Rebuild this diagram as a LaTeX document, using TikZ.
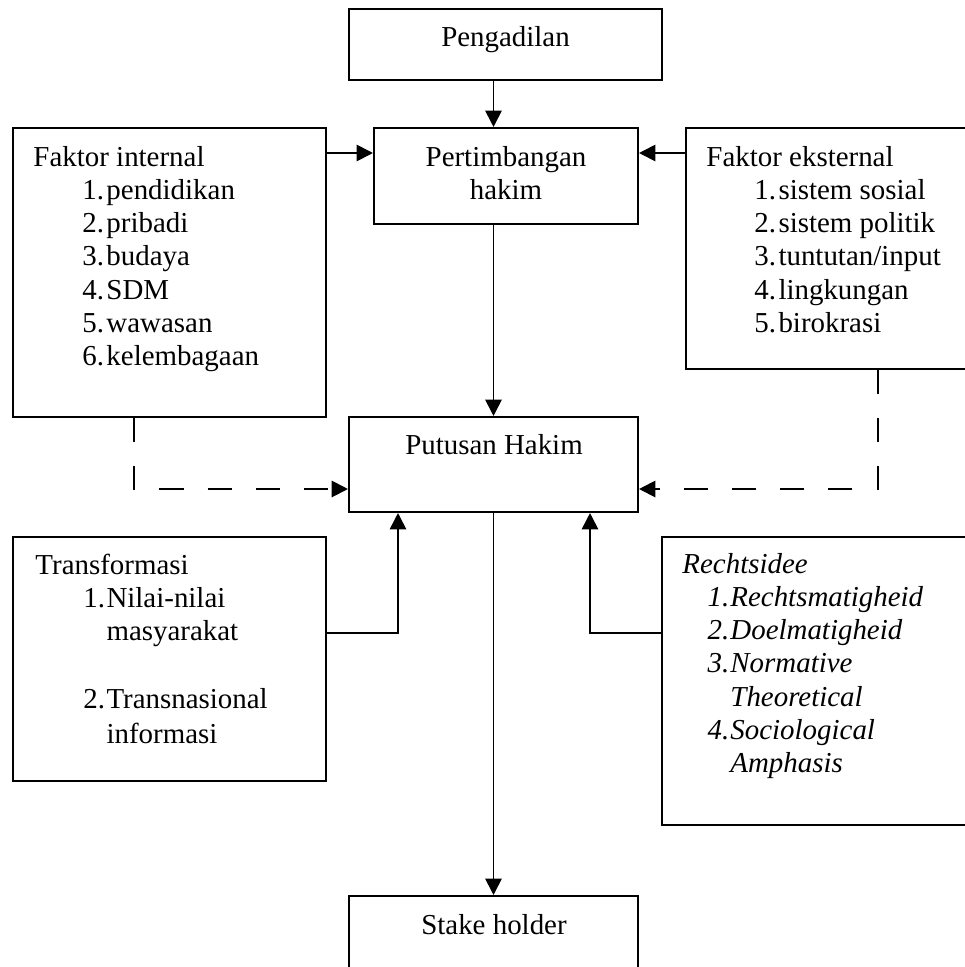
\documentclass[tikz,border=0pt]{standalone}
\usepackage{fontspec}
\setmainfont{Liberation Serif}
\usetikzlibrary{arrows.meta,fit}
\newcommand\numit[4]{\hspace*{#1}\makebox[#2][l]{#3}#4}
\begin{document}
\begin{tikzpicture}[x=0.415pt,y=-0.415pt,
  box/.style={draw,line width=0.85pt,inner sep=0pt},
  txt/.style={anchor=base west,inner sep=0pt,font=\fontsize{12}{13.8}\selectfont},
  ctxt/.style={anchor=base,inner sep=0pt,font=\fontsize{12}{13.8}\selectfont},
  arr/.style={line width=0.75pt,-{Triangle[length=6.8pt,width=6.8pt]}},
  darr/.style={arr,line width=0.85pt,dash pattern=on 10pt off 10pt}]
\useasboundingbox (0,0) rectangle (965,967);
\clip (0,0) rectangle (965,967);

% boxes
\node[box,fit={(349,9)(662,80)}] (peng) {};
\node[box,fit={(374,128)(638,224)}] (pert) {};
\node[box,fit={(13,128)(326,417)}] (int) {};
\node[box,fit={(686,128)(985,369)}] (ext) {};
\node[box,fit={(349,417)(638,512)}] (put) {};
\node[box,fit={(13,537)(326,781)}] (trans) {};
\node[box,fit={(662,537)(985,825)}] (recht) {};
\node[box,fit={(349,896)(638,990)}] (stake) {};

% texts
\node[ctxt] (pengt) at (505.5,46) {Pengadilan};
\node[ctxt] (pertt) at (506,166) {\begin{tabular}[t]{@{}c@{}}Pertimbangan\\hakim\end{tabular}};
\node[ctxt] (putt) at (494,454) {Putusan Hakim};
\node[ctxt] (staket) at (494,934) {Stake holder};
\node[txt] (intt) at (33,166) {\begin{tabular}[t]{@{}l@{}}
Faktor internal\\
\numit{20.3pt}{10pt}{1.}{pendidikan}\\
\numit{20.3pt}{10pt}{2.}{pribadi}\\
\numit{20.3pt}{10pt}{3.}{budaya}\\
\numit{20.3pt}{10pt}{4.}{SDM}\\
\numit{20.3pt}{10pt}{5.}{wawasan}\\
\numit{20.3pt}{10pt}{6.}{kelembagaan}
\end{tabular}};
\node[txt] (extt) at (706,166) {\begin{tabular}[t]{@{}l@{}}
Faktor eksternal\\
\numit{19.9pt}{10pt}{1.}{sistem sosial}\\
\numit{19.9pt}{10pt}{2.}{sistem politik}\\
\numit{19.9pt}{10pt}{3.}{tuntutan/input}\\
\numit{19.9pt}{10pt}{4.}{lingkungan}\\
\numit{19.9pt}{10pt}{5.}{birokrasi}
\end{tabular}};
\node[txt] (transt) at (35,574) {\begin{tabular}[t]{@{}l@{}}
Transformasi\\
\numit{19.9pt}{9.6pt}{1.}{Nilai-nilai}\\
\hspace*{29.5pt}masyarakat\\
\mbox{}\\[0.5pt]
\numit{19.9pt}{9.6pt}{2.}{Transnasional}\\[0.8pt]
\hspace*{29.5pt}informasi
\end{tabular}};
\node[txt] (rechtt) at (682,573) {\itshape\begin{tabular}[t]{@{}l@{}}
Rechtsidee\\
\numit{10.4pt}{9.5pt}{1.}{Rechtsmatigheid}\\
\numit{10.4pt}{9.5pt}{2.}{Doelmatigheid}\\
\numit{10.4pt}{9.5pt}{3.}{Normative}\\
\hspace*{19.9pt}Theoretical\\
\numit{10.4pt}{9.5pt}{4.}{Sociological}\\
\hspace*{19.9pt}Amphasis
\end{tabular}};

% helper coordinates
\coordinate (rowA) at (0,153);
\coordinate (rowB) at (0,489);
\coordinate (rowC) at (0,633);
\coordinate (colL) at (134,0);
\coordinate (colR) at (878,0);
\coordinate (colT) at (398,0);
\coordinate (colS) at (590,0);

% connectors
\draw[arr] (peng.south -| put.north) -- (pert.north -| put.north);
\draw[arr] (int.east |- rowA) -- (pert.west |- rowA);
\draw[arr] (ext.west |- rowA) -- (pert.east |- rowA);
\draw[arr] (pert.south -| put.north) -- (put.north);
\draw[darr] (int.south -| colL) |- (put.west |- rowB);
\draw[darr] (ext.south -| colR) |- (put.east |- rowB);
\draw[arr] (trans.east |- rowC) -| (put.south -| colT);
\draw[arr] (recht.west |- rowC) -| (put.south -| colS);
\draw[arr] (put.south) -- (stake.north);
\end{tikzpicture}
\end{document}
